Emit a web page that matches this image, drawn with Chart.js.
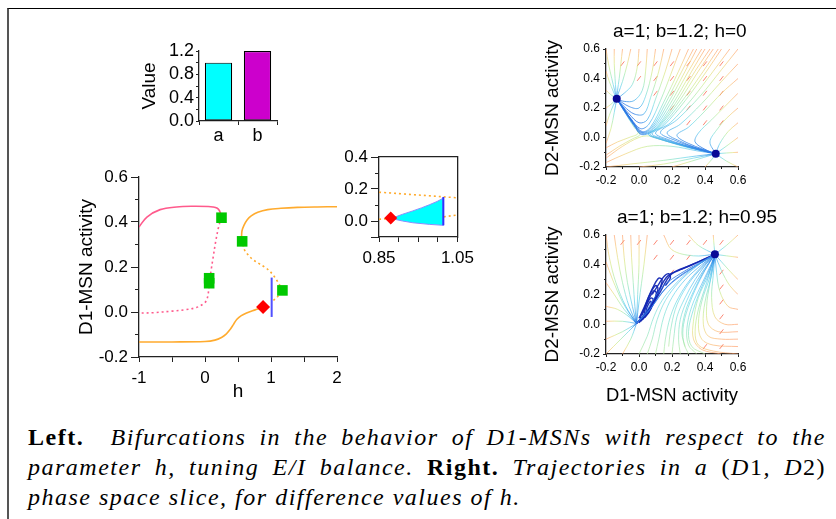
<!DOCTYPE html>
<html><head><meta charset="utf-8">
<script src="https://cdn.jsdelivr.net/npm/chart.js@4.4.1/dist/chart.umd.min.js"></script>
<style>
html,body{margin:0;padding:0;background:#fff;}
body{width:836px;height:519px;position:relative;overflow:hidden;}
.frame{position:absolute;left:7px;top:8px;width:850px;height:530px;border-left:2px solid #555;border-top:1px solid #000;box-sizing:border-box;}
canvas{position:absolute;}
#cap{position:absolute;left:28px;top:422px;width:798px;font-family:"Liberation Serif","Times New Roman",serif;font-size:24px;line-height:30px;color:#000;letter-spacing:1.5px;}
#cap .l{display:block;height:30px;text-align:justify;text-align-last:justify;white-space:nowrap;}
#cap .l3{text-align:left;text-align-last:left;}
</style></head>
<body>
<div class="frame"></div>
<canvas id="cBar" width="160" height="120" style="left:130px;top:30px;width:160px;height:120px"></canvas>
<canvas id="cMain" width="300" height="245" style="left:55px;top:160px;width:300px;height:245px"></canvas>
<canvas id="cInset" width="155" height="140" style="left:325px;top:140px;width:155px;height:140px"></canvas>
<canvas id="cPh1" width="296" height="190" style="left:540px;top:10px;width:296px;height:190px"></canvas>
<canvas id="cPh2" width="296" height="210" style="left:540px;top:200px;width:296px;height:210px"></canvas>
<div id="cap">
<span class="l"><b>Left.</b>&nbsp; <i>Bifurcations in the behavior of D1-MSNs with respect to the</i></span>
<span class="l"><i>parameter h, tuning E/I balance.</i> <b>Right.</b> <i>Trajectories in a</i> (<i>D</i>1<i>,</i> <i>D</i>2)</span>
<span class="l l3"><i>phase space slice, for difference values of h.</i></span>
</div>
<script>
// ---------------- DATA ----------------
// bar chart
const barLabels = ['a', 'b'];
const barValues = [1.0, 1.2];
const barYTicks = [0, 0.2, 0.4, 0.6, 0.8, 1.0, 1.2];

// bifurcation diagram (h, D1-MSN activity)
const mainXTicks = [-1, -0.5, 0, 0.5, 1, 1.5, 2];
const mainYTicks = [-0.2, 0, 0.2, 0.4, 0.6];
const mainYMinor = [-0.1, 0.1, 0.3, 0.5];
const pinkSolidH = [-1, -0.88, -0.68, -0.43, -0.18, 0.05, 0.12, 0.18, 0.215, 0.24];
const pinkSolidY = [0.378, 0.422, 0.455, 0.467, 0.47, 0.469, 0.467, 0.462, 0.452, 0.435];
const pinkDotH = [0.245, 0.2, 0.16, 0.124, 0.095, 0.075, 0.06, 0.045, 0.02, -0.03, -0.13, -0.3, -0.5, -0.78, -1];
const pinkDotY = [0.42, 0.37, 0.31, 0.244, 0.19, 0.15, 0.11, 0.075, 0.05, 0.035, 0.02, 0.01, 0.004, -0.003, -0.005];
const orangeUpH = [0.553, 0.56, 0.59, 0.64, 0.7, 0.8, 0.95, 1.15, 1.4, 1.7, 2.0];
const orangeUpY = [0.33, 0.36, 0.385, 0.41, 0.427, 0.443, 0.455, 0.461, 0.465, 0.467, 0.468];
const orangeDotH = [0.575, 0.6, 0.65, 0.73, 0.82, 0.9, 0.97, 1.03, 1.09, 1.14, 1.17];
const orangeDotY = [0.3, 0.275, 0.255, 0.232, 0.215, 0.2, 0.185, 0.165, 0.14, 0.115, 0.096];
const orangeDot2H = [1.16, 1.12, 1.08, 1.03];
const orangeDot2Y = [0.09, 0.075, 0.062, 0.05];
const orangeLowH = [-1, -0.5, 0, 0.15, 0.25, 0.32, 0.38, 0.43, 0.48, 0.55, 0.63, 0.72, 0.8, 0.88];
const orangeLowY = [-0.133, -0.133, -0.131, -0.125, -0.113, -0.098, -0.078, -0.056, -0.033, -0.016, -0.004, 0.006, 0.013, 0.022];
const squareH = [0.25, 0.063, 0.063, 0.563, 1.173];
const squareY = [0.419, 0.15, 0.128, 0.314, 0.096];
const diamondH = [0.88];
const diamondY = [0.022];
const blueLineH = [1.01, 1.01];
const blueLineY = [-0.022, 0.153];

// inset
const insetXTicks = [0.85, 0.9, 0.95, 1.0, 1.05];
const insetYTicks = [-0.1, 0, 0.2, 0.4];
const insetYMinor = [0.1, 0.3];
const insetUpperX = [0.85, 1.05];
const insetUpperY = [0.18, 0.145];
const insetLowLeftX = [0.85, 0.872];
const insetLowLeftY = [0.011, 0.015];
const insetLowRightX = [1.015, 1.05];
const insetLowRightY = [0.026, 0.038];
const insetRegionX = [0.888, 0.91, 0.936, 0.958, 0.978, 0.998, 1.014, 1.014, 0.978, 0.936, 0.91, 0.888];
const insetRegionY = [0.022, 0.042, 0.063, 0.082, 0.101, 0.122, 0.143, -0.027, -0.021, -0.011, 0.0, 0.012];
const insetBlueX = [1.014, 1.014];
const insetBlueY = [-0.027, 0.15];
const insetDiamondX = [0.88];
const insetDiamondY = [0.018];

// phase planes
const phaseTicks = [-0.2, 0, 0.2, 0.4, 0.6];
const phaseMinor = [-0.1, 0.1, 0.3, 0.5];

// h = 0 : trajectories [D1, D2]
const h0FixedX = [-0.135, 0.465];
const h0FixedY = [0.262, -0.11];
const h0Traj = [
  [[-0.2,0.6],[-0.185,0.5],[-0.165,0.4],[-0.148,0.32],[-0.135,0.262]],
  [[-0.15,0.6],[-0.15,0.5],[-0.145,0.4],[-0.14,0.32],[-0.135,0.262]],
  [[-0.1,0.6],[-0.11,0.5],[-0.12,0.4],[-0.13,0.32],[-0.135,0.262]],
  [[-0.05,0.6],[-0.07,0.5],[-0.1,0.38],[-0.125,0.3],[-0.135,0.262]],
  [[-0.2,0.45],[-0.18,0.38],[-0.155,0.31],[-0.135,0.262]],
  [[-0.2,0.32],[-0.17,0.29],[-0.135,0.262]],
  [[-0.2,0.2],[-0.17,0.225],[-0.135,0.262]],
  [[-0.2,0.08],[-0.18,0.15],[-0.155,0.22],[-0.135,0.262]],
  [[-0.2,-0.04],[-0.17,0.06],[-0.15,0.17],[-0.135,0.262]],
  [[0.0,0.6],[-0.01,0.48],[-0.04,0.36],[-0.09,0.3],[-0.135,0.262]],
  [[0.05,0.6],[0.04,0.45],[0.02,0.32],[-0.03,0.25],[-0.09,0.245],[-0.135,0.262]],
  [[0.1,0.6],[0.08,0.45],[0.04,0.28],[0.0,0.2],[-0.06,0.21],[-0.135,0.262]],
  [[0.15,0.6],[0.12,0.45],[0.07,0.27],[0.03,0.16],[-0.03,0.16],[-0.09,0.21],[-0.135,0.262]],
  [[0.2,0.6],[0.16,0.45],[0.1,0.26],[0.05,0.12],[0.0,0.1],[-0.06,0.16],[-0.135,0.262]],
  [[0.25,0.6],[0.2,0.45],[0.13,0.25],[0.06,0.09],[0.01,0.06],[-0.05,0.13],[-0.135,0.262]],
  [[0.3,0.6],[0.24,0.45],[0.15,0.24],[0.07,0.07],[0.02,0.04],[-0.04,0.11],[-0.1,0.21],[-0.135,0.262]],
  [[0.33,0.6],[0.26,0.45],[0.16,0.23],[0.075,0.065],[0.018,0.035],[-0.035,0.1],[-0.095,0.2],[-0.135,0.262]],
  [[0.35,0.6],[0.28,0.45],[0.18,0.24],[0.08,0.06],[0.02,0.03],[-0.03,0.09],[-0.09,0.19],[-0.135,0.262]],
  [[0.38,0.6],[0.3,0.45],[0.19,0.23],[0.085,0.055],[0.016,0.025],[-0.03,0.085],[-0.09,0.185],[-0.135,0.262]],
  [[0.4,0.6],[0.32,0.45],[0.2,0.22],[0.09,0.05],[0.015,0.02],[-0.03,0.08],[-0.09,0.18],[-0.135,0.262]],
  [[-0.2,-0.12],[-0.12,-0.06],[-0.04,-0.01],[0.005,0.02],[-0.03,0.07],[-0.085,0.17],[-0.135,0.262]],
  [[-0.2,-0.07],[-0.13,-0.03],[-0.06,0.0],[-0.005,0.03],[-0.04,0.1],[-0.09,0.19],[-0.135,0.262]],
  [[0.43,0.6],[0.34,0.45],[0.22,0.23],[0.11,0.065],[0.055,0.025],[0.11,-0.005],[0.24,-0.048],[0.36,-0.083],[0.465,-0.11]],
  [[0.45,0.6],[0.36,0.45],[0.24,0.24],[0.12,0.07],[0.06,0.02],[0.12,-0.01],[0.25,-0.05],[0.37,-0.085],[0.465,-0.11]],
  [[0.48,0.6],[0.39,0.45],[0.26,0.245],[0.135,0.075],[0.07,0.022],[0.135,-0.01],[0.265,-0.053],[0.385,-0.088],[0.465,-0.11]],
  [[0.5,0.6],[0.41,0.45],[0.28,0.25],[0.15,0.08],[0.08,0.025],[0.15,-0.01],[0.28,-0.055],[0.4,-0.09],[0.465,-0.11]],
  [[0.55,0.6],[0.45,0.45],[0.32,0.26],[0.19,0.1],[0.1,0.03],[0.18,-0.015],[0.3,-0.06],[0.465,-0.11]],
  [[0.6,0.6],[0.5,0.46],[0.37,0.28],[0.23,0.12],[0.13,0.035],[0.22,-0.02],[0.33,-0.065],[0.465,-0.11]],
  [[0.6,0.5],[0.5,0.38],[0.38,0.23],[0.25,0.09],[0.17,0.03],[0.26,-0.03],[0.36,-0.075],[0.465,-0.11]],
  [[0.6,0.4],[0.5,0.3],[0.4,0.18],[0.3,0.07],[0.23,0.015],[0.3,-0.04],[0.465,-0.11]],
  [[0.6,0.3],[0.52,0.21],[0.44,0.12],[0.36,0.03],[0.34,-0.03],[0.4,-0.08],[0.465,-0.11]],
  [[0.6,0.2],[0.53,0.13],[0.47,0.05],[0.43,-0.03],[0.465,-0.11]],
  [[0.6,0.1],[0.54,0.04],[0.49,-0.04],[0.465,-0.11]],
  [[0.6,0.0],[0.54,-0.05],[0.465,-0.11]],
  [[0.6,-0.1],[0.53,-0.105],[0.465,-0.11]],
  [[0.6,-0.2],[0.53,-0.16],[0.465,-0.11]],
  [[0.4,-0.2],[0.44,-0.15],[0.465,-0.11]],
  [[0.2,-0.2],[0.32,-0.16],[0.465,-0.11]],
  [[0.0,-0.2],[0.15,-0.18],[0.33,-0.14],[0.465,-0.11]],
  [[-0.2,-0.2],[-0.05,-0.18],[0.15,-0.155],[0.35,-0.125],[0.465,-0.11]],
  [[-0.2,-0.17],[-0.08,-0.11],[0.05,-0.06],[0.2,-0.06],[0.35,-0.09],[0.465,-0.11]],
  [[-0.2,-0.14],[-0.1,-0.06],[0.0,0.0],[0.06,0.01],[0.15,-0.02],[0.3,-0.07],[0.465,-0.11]]
];
const h0ArrowX = [-0.1,0,0.1,0.2,0.3,0.4,0.5, 0,0.1,0.2,0.3,0.4,0.5, 0.1,0.2,0.3,0.4,0.5, 0.2,0.3,0.4,0.5, 0.3,0.4,0.5];
const h0ArrowY = [0.5,0.5,0.5,0.5,0.5,0.5,0.5, 0.4,0.4,0.4,0.4,0.4,0.4, 0.3,0.3,0.3,0.3,0.3, 0.2,0.2,0.2,0.2, 0.1,0.1,0.1];

// h = 0.95
const h95FixedX = [0.46];
const h95FixedY = [0.47];
const h95Traj = [
  [[-0.2,0.6],[-0.18,0.45],[-0.14,0.28],[-0.08,0.12],[-0.015,0.005]],
  [[-0.15,0.6],[-0.13,0.45],[-0.1,0.28],[-0.06,0.12],[-0.015,0.005]],
  [[-0.1,0.6],[-0.09,0.45],[-0.07,0.28],[-0.04,0.12],[-0.015,0.005]],
  [[-0.05,0.6],[-0.045,0.45],[-0.035,0.28],[-0.025,0.12],[-0.015,0.005]],
  [[0.0,0.6],[0.0,0.4],[-0.008,0.2],[-0.015,0.005]],
  [[0.05,0.6],[0.03,0.4],[0.0,0.15],[-0.015,0.005]],
  [[-0.2,0.42],[-0.16,0.3],[-0.1,0.15],[-0.05,0.06],[-0.015,0.005]],
  [[-0.2,0.28],[-0.15,0.2],[-0.09,0.1],[-0.015,0.005]],
  [[-0.2,0.12],[-0.13,0.1],[-0.06,0.05],[-0.015,0.005]],
  [[-0.2,0.02],[-0.1,0.02],[-0.015,0.005]],
  [[-0.2,-0.1],[-0.1,-0.05],[-0.015,0.005]],
  [[-0.2,-0.2],[-0.11,-0.1],[-0.015,0.005]],
  [[-0.1,-0.2],[-0.05,-0.1],[-0.015,0.005]],
  [[0.5,-0.2],[0.38,-0.17],[0.33,-0.1],[0.33,0.02],[0.36,0.18],[0.42,0.33],[0.46,0.47]],
  [[0.6,-0.2],[0.45,-0.18],[0.36,-0.14],[0.34,-0.05],[0.36,0.1],[0.41,0.28],[0.46,0.47]],
  [[0.6,-0.15],[0.45,-0.14],[0.38,-0.1],[0.36,0.0],[0.38,0.15],[0.43,0.32],[0.46,0.47]],
  [[0.6,-0.1],[0.5,-0.1],[0.42,-0.08],[0.39,0.0],[0.4,0.15],[0.44,0.33],[0.46,0.47]],
  [[0.6,-0.05],[0.48,-0.05],[0.42,0.0],[0.41,0.12],[0.43,0.28],[0.46,0.47]],
  [[0.6,0.0],[0.52,0.0],[0.46,0.05],[0.44,0.18],[0.45,0.33],[0.46,0.47]],
  [[0.6,0.1],[0.54,0.12],[0.49,0.22],[0.47,0.35],[0.46,0.47]],
  [[0.6,0.2],[0.55,0.26],[0.5,0.36],[0.46,0.47]],
  [[0.6,0.3],[0.54,0.37],[0.46,0.47]],
  [[0.6,0.45],[0.53,0.46],[0.46,0.47]],
  [[0.6,0.6],[0.53,0.53],[0.46,0.47]],
  [[0.45,0.6],[0.455,0.53],[0.46,0.47]],
  [[0.3,0.6],[0.36,0.53],[0.46,0.47]],
  [[0.15,0.6],[0.2,0.5],[0.33,0.46],[0.46,0.47]]
];
const h95Interior = [
  [[0.0,-0.2],[0.05,-0.08],[0.09,0.05],[0.14,0.16],[0.22,0.27],[0.33,0.38],[0.46,0.47]],
  [[0.05,-0.2],[0.08,-0.1],[0.11,0.03],[0.16,0.16],[0.24,0.28],[0.35,0.39],[0.46,0.47]],
  [[0.1,-0.2],[0.12,-0.1],[0.15,0.05],[0.2,0.18],[0.28,0.3],[0.38,0.4],[0.46,0.47]],
  [[0.15,-0.2],[0.16,-0.1],[0.19,0.05],[0.24,0.18],[0.31,0.3],[0.4,0.41],[0.46,0.47]],
  [[0.2,-0.2],[0.21,-0.1],[0.23,0.05],[0.28,0.18],[0.34,0.3],[0.41,0.41],[0.46,0.47]],
  [[0.25,-0.2],[0.24,-0.1],[0.25,0.03],[0.29,0.16],[0.35,0.29],[0.42,0.41],[0.46,0.47]],
  [[0.3,-0.2],[0.27,-0.12],[0.27,0.0],[0.31,0.15],[0.37,0.3],[0.43,0.42],[0.46,0.47]],
  [[0.35,-0.2],[0.3,-0.14],[0.29,-0.03],[0.32,0.12],[0.38,0.27],[0.44,0.41],[0.46,0.47]],
  [[0.4,-0.2],[0.32,-0.15],[0.3,-0.05],[0.33,0.1],[0.38,0.25],[0.44,0.4],[0.46,0.47]],
  [[0.18,-0.15],[0.19,-0.05],[0.22,0.1],[0.27,0.22],[0.34,0.33],[0.46,0.47]],
  [[0.28,-0.15],[0.26,-0.06],[0.28,0.08],[0.33,0.22],[0.39,0.35],[0.46,0.47]]
];
const h95Bundle = [
  [[-0.015,0.005],[0.04,0.08],[0.1,0.19],[0.16,0.27],[0.25,0.34],[0.36,0.41],[0.46,0.47]],
  [[-0.015,0.005],[0.06,0.09],[0.13,0.2],[0.2,0.28],[0.3,0.36],[0.46,0.47]],
  [[-0.015,0.005],[0.08,0.12],[0.16,0.24],[0.24,0.32],[0.34,0.39],[0.46,0.47]]
];
const h95Loops = [
  [[0.045,0.07],[0.065,0.1],[0.075,0.14],[0.07,0.155],[0.055,0.13],[0.045,0.1],[0.045,0.07]],
  [[0.035,0.045],[0.06,0.08],[0.08,0.13],[0.085,0.17],[0.07,0.175],[0.05,0.14],[0.035,0.09],[0.035,0.045]],
  [[0.02,0.03],[0.07,0.1],[0.1,0.18],[0.115,0.24],[0.1,0.26],[0.07,0.21],[0.04,0.13],[0.02,0.06]],
  [[0.01,0.02],[0.05,0.07],[0.09,0.15],[0.105,0.21],[0.09,0.225],[0.06,0.17],[0.03,0.1],[0.01,0.05],[0.01,0.02]],
  [[-0.015,0.005],[0.04,0.07],[0.1,0.17],[0.13,0.25],[0.14,0.3],[0.12,0.31],[0.09,0.26],[0.06,0.19],[0.03,0.11],[0.0,0.04]],
  [[0.08,0.2],[0.12,0.27],[0.15,0.32],[0.18,0.34],[0.19,0.31],[0.16,0.26]],
  [[-0.015,0.005],[0.05,0.09],[0.11,0.2],[0.15,0.29],[0.18,0.33],[0.23,0.36],[0.32,0.4],[0.46,0.47]],
  [[0.0,0.01],[0.07,0.11],[0.13,0.22],[0.17,0.3],[0.2,0.34],[0.26,0.37],[0.36,0.42],[0.46,0.47]]
];
const h95ArrowX = [-0.1,0,0.1,0.2,0.3,0.4,0.5, 0.1,0.2,0.3,0.5, 0.2,0.5, 0.5, 0.5, 0.5, 0.5, 0.4];
const h95ArrowY = [0.55,0.55,0.55,0.55,0.55,0.55,0.55, 0.45,0.45,0.45,0.35, 0.35,0.25, 0.15, 0.05, -0.05, -0.15, -0.15];

// ---------------- RENDERING ----------------
const FF = '"Liberation Sans", Arial, Helvetica, sans-serif';
Chart.defaults.font.family = FF;
Chart.defaults.color = '#000';
Chart.defaults.animation = false;
Chart.defaults.responsive = false;
Chart.defaults.devicePixelRatio = 1;
Chart.defaults.plugins.legend.display = false;
Chart.defaults.plugins.tooltip.enabled = false;
const AX = '#222';

const titlePlugin = {
  id: 'ptitle',
  afterDraw(chart, args, opts) {
    if (!opts || !opts.text) return;
    const c = chart.ctx;
    c.save();
    c.font = opts.size + 'px ' + FF;
    c.fillStyle = '#000';
    c.textBaseline = 'middle';
    c.textAlign = 'left';
    c.fillText(opts.text, chart.chartArea.left + opts.dx, opts.y);
    c.restore();
  }
};
Chart.register(titlePlugin);

const pts = (xs, ys) => xs.map((x, i) => ({x: x, y: ys[i]}));
const fixW = w => s => { s.width = w; };
const fixH = h => s => { s.height = h; };
const near = (a, b) => Math.abs(a - b) < 1e-6;
const f1 = v => { const r = Math.round(v * 10) / 10; return (Math.abs(r) < 1e-9 ? 0 : r).toFixed(1); };
const setTicks = list => s => { s.ticks = list.map(v => ({value: v})); };

function major(pos, min, max, list, size, fmt, fs, tl, pad, title) {
  return {
    type: 'linear', position: pos, min: min, max: max, weight: 1,
    ticks: {autoSkip: false, maxRotation: 0, color: '#000', font: {size: fs}, padding: pad, callback: fmt},
    afterBuildTicks: setTicks(list),
    grid: {drawOnChartArea: false, drawTicks: true, tickLength: tl, tickColor: AX, tickWidth: 1},
    border: {display: true, color: AX, width: 1.3},
    title: title || {display: false},
    afterFit: (pos === 'left' || pos === 'right') ? fixW(size) : fixH(size)
  };
}
function minor(pos, min, max, list, tl) {
  return {
    type: 'linear', position: pos, min: min, max: max, weight: 0,
    ticks: {display: false, autoSkip: false},
    afterBuildTicks: setTicks(list),
    grid: {drawOnChartArea: false, drawTicks: true, tickLength: tl, tickColor: AX, tickWidth: 1},
    border: {display: false},
    afterFit: (pos === 'left' || pos === 'right') ? fixW(0) : fixH(0)
  };
}
function frameAxis(pos) {
  return {
    type: 'linear', position: pos, min: 0, max: 1, weight: 0,
    ticks: {display: false}, grid: {display: false},
    border: {display: true, color: AX, width: 1.3},
    afterFit: (pos === 'left' || pos === 'right') ? fixW(0) : fixH(0)
  };
}
function axTitle(text, size, padTop, padBottom) {
  return {display: true, text: text, color: '#000', font: {size: size}, padding: {top: padTop, bottom: padBottom}};
}
function curve(xs, ys, color, dotted, width) {
  return {data: pts(xs, ys), showLine: true, borderColor: color, borderWidth: width || 1.6, order: 2,
          pointRadius: 0, borderDash: dotted ? [2, 3] : [], tension: 0.35};
}

// speed-like colouring along a trajectory (fast: orange, slow: blue)
const FAST_STOPS = [[0, 'rgba(255,150,95,0.7)'], [0.15, 'rgba(245,200,105,0.7)'], [0.33, 'rgba(205,232,120,0.7)'],
                    [0.53, 'rgba(145,230,170,0.72)'], [0.73, 'rgba(100,212,235,0.78)'], [0.9, 'rgba(65,165,235,0.82)'],
                    [1, 'rgba(40,115,228,0.88)']];
const SLOW_STOPS = [[0, 'rgba(175,232,150,0.7)'], [0.25, 'rgba(120,225,200,0.72)'], [0.55, 'rgba(95,210,238,0.75)'],
                    [0.85, 'rgba(70,170,236,0.8)'], [1, 'rgba(45,120,228,0.85)']];
function gradFn(stops) {
  return function (ctx) {
    const chart = ctx.chart;
    const ds = ctx.dataset;
    if (!chart.chartArea || !ds || !ds.data.length) return 'rgba(255,160,80,0.8)';
    const a = ds.data[0], b = ds.data[ds.data.length - 1];
    const xs = chart.scales.x, ys = chart.scales.y;
    const g = chart.ctx.createLinearGradient(xs.getPixelForValue(a.x), ys.getPixelForValue(a.y),
                                             xs.getPixelForValue(b.x), ys.getPixelForValue(b.y));
    stops.forEach(s => g.addColorStop(s[0], s[1]));
    return g;
  };
}
function trajSets(list, colorFn, width) {
  return list.map(t => ({data: t.map(p => ({x: p[0], y: p[1]})), showLine: true, pointRadius: 0, order: 3,
                         borderWidth: width, tension: 0.35, borderColor: colorFn}));
}

// ---- bar chart ----
new Chart(document.getElementById('cBar'), {
  type: 'bar',
  data: {labels: barLabels, datasets: [{data: barValues, backgroundColor: ['#00ffff', '#cc00cc'],
         borderColor: '#000', borderWidth: 1.2, borderSkipped: false, barPercentage: 0.7, categoryPercentage: 1}]},
  options: {
    layout: {padding: {top: 21, right: 13, left: 0, bottom: 0}},
    scales: {
      x: {type: 'category', offset: true,
          grid: {offset: true, drawOnChartArea: false, tickLength: 4, tickColor: AX},
          border: {color: AX, width: 1.3},
          ticks: {font: {size: 18}, color: '#000', padding: 0, maxRotation: 0},
          afterFit: fixH(29)},
      y: {type: 'linear', min: 0, max: 1.2,
          afterBuildTicks: setTicks(barYTicks),
          ticks: {autoSkip: false, font: {size: 18}, color: '#000', padding: 2,
                  callback: v => near(v / 0.4, Math.round(v / 0.4)) ? f1(v) : ''},
          grid: {drawOnChartArea: false, tickLength: 3, tickColor: AX},
          border: {color: AX, width: 1.3},
          title: axTitle('Value', 19, 8.6, 0),
          afterFit: fixW(69)}
    }
  }
});

// ---- bifurcation diagram ----
new Chart(document.getElementById('cMain'), {
  type: 'scatter',
  data: {datasets: [
    curve(pinkSolidH, pinkSolidY, '#ff5a8c', false),
    curve(pinkDotH, pinkDotY, '#ff5a8c', true),
    curve(orangeUpH, orangeUpY, '#ffab2e', false),
    curve(orangeDotH, orangeDotY, '#ffab2e', true),
    curve(orangeDot2H, orangeDot2Y, '#ffab2e', true),
    curve(orangeLowH, orangeLowY, '#ffab2e', false),
    {data: pts(blueLineH, blueLineY), showLine: true, borderColor: '#5050ff', borderWidth: 2, pointRadius: 0, order: 1},
    {data: pts(squareH, squareY), pointStyle: 'rect', pointRadius: 7.5, backgroundColor: '#00c800', borderColor: '#00c800', borderWidth: 0, order: 0},
    {data: pts(diamondH, diamondY), pointStyle: 'rectRot', pointRadius: 7, backgroundColor: '#ff0000', borderColor: '#ff0000', borderWidth: 0, order: 0}
  ]},
  options: {
    layout: {padding: {top: 17, right: 18, left: 0, bottom: 0}},
    scales: {
      x: major('bottom', -1, 2, mainXTicks, 48, v => near(v, Math.round(v)) ? String(Math.round(v)) : '', 17, 5, 6, axTitle('h', 19, 0, 1.6)),
      y: major('left', -0.2, 0.6, mainYTicks, 84, f1, 17, 8, 3, axTitle('D1-MSN activity', 19, 20.6, 0)),
      y2: minor('left', -0.2, 0.6, mainYMinor, 4)
    }
  }
});

// ---- inset ----
new Chart(document.getElementById('cInset'), {
  type: 'scatter',
  data: {datasets: [
    curve(insetUpperX, insetUpperY, '#ffab2e', true),
    curve(insetLowLeftX, insetLowLeftY, '#ffab2e', true),
    curve(insetLowRightX, insetLowRightY, '#ffab2e', true),
    {data: pts(insetRegionX, insetRegionY), showLine: true, fill: 'shape', backgroundColor: '#00ffff',
     borderColor: '#8a8cff', borderWidth: 1, pointRadius: 0, tension: 0, order: 1},
    {data: pts(insetBlueX, insetBlueY), showLine: true, borderColor: '#3030ff', borderWidth: 2, pointRadius: 0, order: 0},
    {data: pts(insetDiamondX, insetDiamondY), pointStyle: 'rectRot', pointRadius: 6.5, backgroundColor: '#ff0000', borderColor: '#ff0000', borderWidth: 0, order: 0}
  ]},
  options: {
    layout: {padding: {top: 17, right: 22, left: 0, bottom: 0}},
    scales: {
      x: major('bottom', 0.85, 1.05, insetXTicks, 43, v => (near(v, 0.85) || near(v, 1.05)) ? v.toFixed(2) : '', 17, 5, 6),
      y: major('left', -0.1, 0.4, insetYTicks, 54, v => near(v / 0.2, Math.round(v / 0.2)) ? f1(v) : '', 17, 8, 3),
      y2: minor('left', -0.1, 0.4, insetYMinor, 4),
      xt: frameAxis('top'),
      yr: frameAxis('right')
    }
  }
});

// ---- phase planes ----
function phaseChart(id, groups, fixX, fixY, arrowsX, arrowsY, title, titleY, titleDx, xTitle, padTop, xH) {
  let sets = [{data: pts(arrowsX, arrowsY), pointStyle: 'line', pointRadius: 3, pointRotation: -52, order: 4,
               borderColor: 'rgba(250,95,70,0.75)', borderWidth: 1, showLine: false}];
  groups.forEach(g => { sets = sets.concat(trajSets(g.list, g.color, g.width)); });
  sets.push({data: pts(fixX, fixY), pointRadius: 4, pointStyle: 'circle', backgroundColor: '#0a0a96', borderColor: '#0a0a96', borderWidth: 0, order: 0});
  return new Chart(document.getElementById(id), {
    type: 'scatter',
    data: {datasets: sets},
    options: {
      layout: {padding: {top: padTop, right: 98, left: 0, bottom: 0}},
      plugins: {ptitle: {text: title, size: 19, y: titleY, dx: titleDx}},
      scales: {
        x: major('bottom', -0.2, 0.6, phaseTicks, xH, f1, 12, 3, 3, xTitle),
        x2: minor('bottom', -0.2, 0.6, phaseMinor, 2),
        y: major('left', -0.2, 0.6, phaseTicks, 66, f1, 12, 3, 3, axTitle('D2-MSN activity', 19, 1.6, 0)),
        y2: minor('left', -0.2, 0.6, phaseMinor, 2)
      }
    }
  });
}
phaseChart('cPh1', [{list: h0Traj, color: gradFn(FAST_STOPS), width: 0.9}],
           h0FixedX, h0FixedY, h0ArrowX, h0ArrowY, 'a=1; b=1.2; h=0', 22, 7, null, 39, 33);
phaseChart('cPh2', [
             {list: h95Traj, color: gradFn(FAST_STOPS), width: 0.9},
             {list: h95Interior, color: gradFn(SLOW_STOPS), width: 0.9},
             {list: h95Bundle, color: 'rgba(45,120,228,0.8)', width: 1},
             {list: h95Loops, color: 'rgba(20,40,180,0.95)', width: 1.4}
           ],
           h95FixedX, h95FixedY, h95ArrowX, h95ArrowY, 'a=1; b=1.2; h=0.95', 18, 11,
           axTitle('D1-MSN activity', 19, 0, 2.6), 35, 56);
</script>
</body></html>
